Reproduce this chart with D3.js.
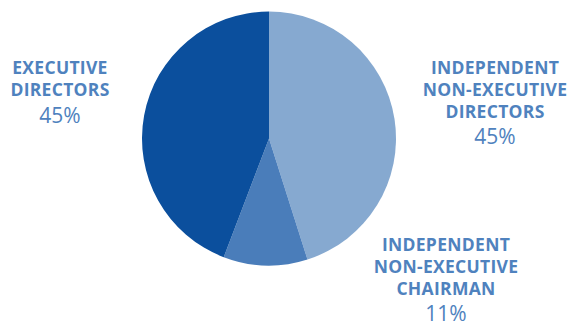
<!DOCTYPE html>
<html>
<head>
<meta charset="utf-8">
<script src="https://cdn.jsdelivr.net/npm/d3@7"></script>
<style>
  html, body { margin: 0; padding: 0; background: #fff; }
  svg { display: block; }
</style>
</head>
<body>
<svg id="chart" width="573" height="327"></svg>
<script>
// ---- data ----
const categories = [
  ["INDEPENDENT", "NON-EXECUTIVE", "DIRECTORS"],
  ["INDEPENDENT", "NON-EXECUTIVE", "CHAIRMAN"],
  ["EXECUTIVE", "DIRECTORS"]
];
const values = [45.1, 10.7, 44.2];
const percentLabels = ["45%", "11%", "45%"];
const colors = ["#86a9d0", "#4a7dba", "#0b4f9d"];

// ---- layout ----
const svg = d3.select("#chart");
const cx = 269, cy = 138.5, r = 127;
const labelPos = [
  { x: 495, y: 74, pct: 4 },
  { x: 446, y: 251, pct: 4 },
  { x: 60, y: 73.5, pct: 5 }
];
const lineH = 22;
const textColor = "#4f82be";

const pie = d3.pie().sort(null).value(d => d);
const arc = d3.arc().innerRadius(0).outerRadius(r);

const g = svg.append("g").attr("transform", `translate(${cx},${cy})`);
g.selectAll("path")
  .data(pie(values))
  .join("path")
  .attr("d", arc)
  .attr("fill", (d, i) => colors[i]);

const labels = svg.selectAll("g.label")
  .data(categories)
  .join("g")
  .attr("class", "label")
  .attr("transform", (d, i) => `translate(${labelPos[i].x},${labelPos[i].y})`);

labels.each(function(lines, i) {
  const t = d3.select(this);
  lines.forEach((ln, j) => {
    t.append("text")
      .attr("x", 0).attr("y", j * lineH)
      .attr("text-anchor", "middle")
      .attr("font-family", "'Open Sans', sans-serif")
      .attr("font-weight", "bold")
      .attr("font-size", 17.5)
      .attr("letter-spacing", 0.3)
      .attr("fill", textColor)
      .text(ln);
  });
  t.append("text")
    .attr("x", 0).attr("y", lines.length * lineH + labelPos[i].pct)
    .attr("text-anchor", "middle")
    .attr("font-family", "'Open Sans', sans-serif")
    .attr("font-size", 21)
    .attr("fill", textColor)
    .text(percentLabels[i]);
});
</script>
</body>
</html>
